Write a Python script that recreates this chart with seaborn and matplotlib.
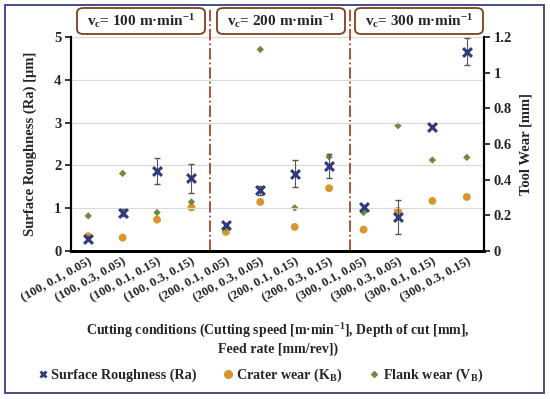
import matplotlib
matplotlib.use('Agg')
import matplotlib.pyplot as plt
from matplotlib.patches import Rectangle, FancyBboxPatch
import numpy as np
import seaborn as sns

# Data
conditions = ['(100, 0.1, 0.05)', '(100, 0.3, 0.05)', '(100, 0.1, 0.15)', '(100, 0.3, 0.15)',
              '(200, 0.1, 0.05)', '(200, 0.3, 0.05)', '(200, 0.1, 0.15)', '(200, 0.3, 0.15)',
              '(300, 0.1, 0.05)', '(300, 0.3, 0.05)', '(300, 0.1, 0.15)', '(300, 0.3, 0.15)']
ra = [0.29, 0.89, 1.87, 1.70, 0.60, 1.42, 1.81, 1.99, 1.02, 0.80, 2.90, 4.66]
ra_err = [0.05, 0.08, 0.31, 0.34, 0.05, 0.10, 0.31, 0.28, 0.05, 0.40, 0.05, 0.32]
crater = [0.083, 0.075, 0.176, 0.244, 0.107, 0.275, 0.135, 0.352, 0.120, 0.225, 0.281, 0.303]
flank = [0.197, 0.435, 0.216, 0.275, 0.130, 1.13, 0.242, 0.528, 0.216, 0.703, 0.510, 0.525]
speeds = ['100', '200', '300']

NAVY = '#2E3A7C'
ORANGE = '#D8962E'
GREEN = '#6B8C3A'
DIV = '#A5432A'
BOX = '#7B3F1E'

sns.set_style('white')
plt.rcParams['font.family'] = ['Liberation Serif', 'DejaVu Serif']
plt.rcParams['font.weight'] = 'bold'
plt.rcParams['axes.labelweight'] = 'bold'
plt.rcParams['mathtext.fontset'] = 'custom'
plt.rcParams['mathtext.rm'] = 'Liberation Serif:bold'
plt.rcParams['mathtext.it'] = 'Liberation Serif:bold'
plt.rcParams['mathtext.bf'] = 'Liberation Serif:bold'
plt.rcParams['mathtext.default'] = 'rm'

fig = plt.figure(figsize=(5.5, 3.99), dpi=100)
ax = fig.add_axes([71 / 550, 1 - 251 / 399, 413 / 550, 214 / 399])
ax2 = ax.twinx()

x = np.arange(len(conditions))

ax.errorbar(x, ra, yerr=ra_err, fmt='none', ecolor='#555555', elinewidth=0.8, capsize=2.5, zorder=2)
sns.scatterplot(x=x, y=ra, ax=ax, marker='x', s=40, color=NAVY, linewidth=2.2, zorder=5)
sns.scatterplot(x=x, y=crater, ax=ax2, marker='o', s=32, color=ORANGE, edgecolor='none', zorder=3)
sns.scatterplot(x=x, y=flank, ax=ax2, marker='D', s=14, color=GREEN, edgecolor='none', zorder=3)

ax.set_zorder(ax2.get_zorder() + 1)
ax.patch.set_visible(False)

ax.set_xlim(-0.5, len(conditions) - 0.5)
ax.set_ylim(0, 5)
ax2.set_ylim(0, 1.2)
ax.set_yticks(range(0, 6))
ax2.set_yticks(np.arange(0, 1.21, 0.2))
ax2.set_yticklabels(['0', '0.2', '0.4', '0.6', '0.8', '1', '1.2'])
ax.yaxis.grid(True, color='#d9d9d9', linewidth=0.8)
ax.set_axisbelow(True)

ax.set_xticks(x)
ax.set_xticklabels(conditions, rotation=29, ha='right', rotation_mode='anchor', fontsize=9.2)
ax.tick_params(axis='x', length=0, pad=3)
ax.tick_params(axis='y', direction='out', length=4, width=1.3, labelsize=10.5, pad=3)
ax2.tick_params(axis='y', direction='out', length=4, width=1.3, labelsize=10.5, pad=3)
for lab in ax.get_xticklabels() + ax.get_yticklabels() + ax2.get_yticklabels():
    lab.set_fontweight('bold')

for a in (ax, ax2):
    a.spines['top'].set_visible(False)
    a.spines['left'].set_linewidth(1.5)
    a.spines['right'].set_linewidth(1.5)
    a.spines['bottom'].set_linewidth(2)
    for side in ('left', 'right', 'bottom'):
        a.spines[side].set_color('black')

ax.set_ylabel('Surface Roughness (Ra) [µm]', fontsize=10.5, fontweight='bold', labelpad=12)
ax2.set_ylabel('Tool Wear [mm]', fontsize=10.5, fontweight='bold', labelpad=5)

# Section dividers
for d in (3.55, 7.6):
    ax.axvline(d, ymin=0, ymax=1.135, color=DIV, linestyle='-.', linewidth=1.3, clip_on=False)

# Cutting speed boxes
box_x = [(77, 205), (217, 345), (355, 483)]
for (x0, x1), v in zip(box_x, speeds):
    fig.patches.append(FancyBboxPatch((x0 / 550, 1 - 34 / 399), (x1 - x0) / 550, 26 / 399,
                                      boxstyle='round,pad=0,rounding_size=0.012',
                                      transform=fig.transFigure, facecolor='white',
                                      edgecolor=BOX, linewidth=1.3, zorder=3))
    fig.text((x0 + x1) / 2 / 550, 1 - 21 / 399, 'v$_c$= ' + v + ' m·min$^{-1}$',
             ha='center', va='center', fontsize=11, fontweight='bold', zorder=4)

fig.text(0.505, 1 - 339 / 399,
         'Cutting conditions (Cutting speed [m·min$^{-1}$], Depth of cut [mm],\nFeed rate [mm/rev])',
         ha='center', va='center', fontsize=10, fontweight='bold', linespacing=1.3)

handles = [
    plt.Line2D([], [], marker='x', color=NAVY, linestyle='none', markersize=5, markeredgewidth=2),
    plt.Line2D([], [], marker='o', color=ORANGE, linestyle='none', markersize=5.5),
    plt.Line2D([], [], marker='D', color=GREEN, linestyle='none', markersize=3),
]
fig.legend(handles, ['Surface Roughness (Ra)', 'Crater wear (K$_B$)', 'Flank wear (V$_B$)'],
           loc='center', bbox_to_anchor=(0.47, 1 - 375 / 399), ncol=3, frameon=False,
           prop={'size': 10.2, 'weight': 'bold'}, handletextpad=0.0, columnspacing=1.6,
           handlelength=1.2)

fig.patches.append(Rectangle((5 / 550, 6 / 399), 539 / 550, 388 / 399, transform=fig.transFigure,
                             fill=False, edgecolor='#3B3F7A', linewidth=1.3))

fig.savefig('out.png', dpi=100)
